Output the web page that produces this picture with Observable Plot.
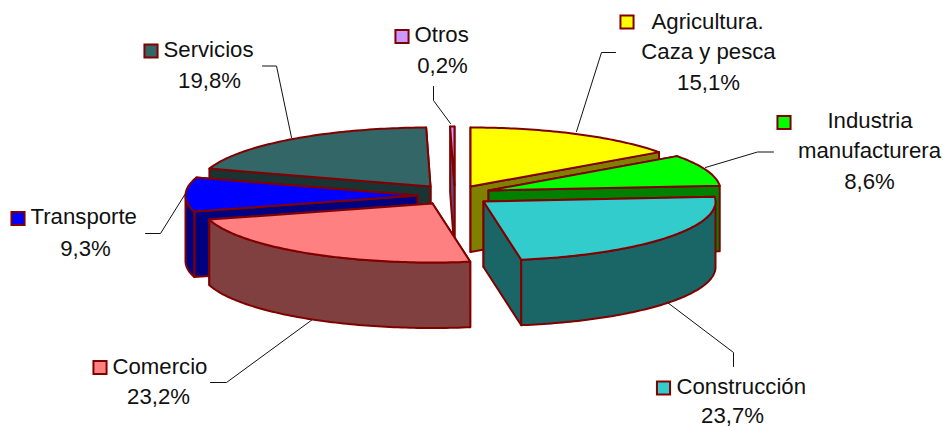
<!DOCTYPE html>
<html>
<head>
<meta charset="utf-8">
<style>html,body{margin:0;padding:0;background:#fff}svg{display:block}</style>
<script src="https://cdn.jsdelivr.net/npm/d3@7"></script>
<script src="https://cdn.jsdelivr.net/npm/@observablehq/plot@0.6"></script>
</head>
<body>
<div id="chart"></div>
<script>
// ---- data ----
const categories = ["Agricultura. Caza y pesca","Industria manufacturera","Construcción","Comercio","Transporte","Servicios","Otros"];
const shares = [15.1, 8.6, 23.7, 23.2, 9.3, 19.8, 0.2];
const topColors = ["#ffff00","#00ff00","#33cccc","#ff8080","#0000ff","#336666","#cc99ff"];
const wallColors = ["#808000","#008000","#1a6666","#804040","#000080","#1a3333","#664c80"];
// apex of each exploded slice
const apexX = [470, 488, 483, 432, 417, 430, 454];
const apexY = [186, 190, 201, 203, 195, 186, 185];
const drawOrder = [6, 5, 0, 1, 4, 2, 3];

// ---- projection of the tilted pie ----
const rx = 232, ry = 59, depth = 65.5;
const rim = (i, deg) => {
  const a = deg * Math.PI / 180;
  return [apexX[i] + rx * Math.sin(a), apexY[i] - ry * Math.cos(a)];
};
let cum = 0;
const spans = shares.map(s => { const a = cum * 3.6; cum += s; return [a, cum * 3.6]; });
spans[6][1] = 360;

const polys = [];
let pid = 0;
const addPoly = (pts, color) => {
  pid++;
  [...pts, pts[0]].forEach(p => polys.push({id: pid, px: p[0], py: p[1], color}));
};
for (const i of drawOrder) {
  const [a0, a1] = spans[i];
  const apex = [apexX[i], apexY[i]];
  const flat = (deg) => {
    const r = rim(i, deg);
    addPoly([apex, r, [r[0], r[1] + depth], [apex[0], apex[1] + depth]], wallColors[i]);
  };
  // flat cut faces, farther one first
  if (rim(i, a0)[1] < rim(i, a1)[1]) { flat(a0); flat(a1); } else { flat(a1); flat(a0); }
  // curved outer wall (front half only)
  const f0 = Math.max(a0, 90), f1 = Math.min(a1, 270);
  if (f1 > f0) {
    const arc = d3.range(f0, f1, 1).concat(f1).map(d => rim(i, d));
    addPoly([...arc, ...arc.slice().reverse().map(p => [p[0], p[1] + depth])], wallColors[i]);
  }
  // top face
  const top = d3.range(a0, a1, 1).concat(a1).map(d => rim(i, d));
  addPoly([apex, ...top], topColors[i]);
}

// ---- labels ----
const pct = s => s.toFixed(1).replace(".", ",") + "%";
const textRows = [
  {t: "Agricultura.", x: 651, y: 21, a: "start"},
  {t: "Caza y pesca", x: 708, y: 51, a: "middle"},
  {t: pct(shares[0]), x: 708, y: 82, a: "middle"},
  {t: "Industria", x: 869.5, y: 120, a: "middle"},
  {t: "manufacturera", x: 869, y: 150, a: "middle"},
  {t: pct(shares[1]), x: 869, y: 181, a: "middle"},
  {t: "Construcción", x: 676, y: 386, a: "start"},
  {t: pct(shares[2]), x: 732, y: 415.5, a: "middle"},
  {t: "Comercio", x: 112, y: 366, a: "start"},
  {t: pct(shares[3]), x: 158, y: 396, a: "middle"},
  {t: "Transporte", x: 30, y: 216, a: "start"},
  {t: pct(shares[4]), x: 85, y: 248, a: "middle"},
  {t: "Servicios", x: 163, y: 49, a: "start"},
  {t: pct(shares[5]), x: 209, y: 80, a: "middle"},
  {t: "Otros", x: 414, y: 34, a: "start"},
  {t: pct(shares[6]), x: 442, y: 65, a: "middle"}
];
const keyX = [626.5, 783.5, 663, 99.5, 17.5, 150.5, 401.5];
const keyY = [21.5, 122, 387.5, 367, 218, 50.5, 36];
const keys = categories.map((c, i) => ({c, x: keyX[i], y: keyY[i], color: topColors[i]}));
const leaders = [
  [[615,52],[601,52],[576,131]],
  [[773,151.5],[757,151.5],[705,167]],
  [[733,366],[733,352],[667,302]],
  [[210,382],[226,382],[312,319]],
  [[145,233],[160,233],[185,193]],
  [[262,65.5],[276,65.5],[291,137]],
  [[433,86],[433,100],[450,123]]
].flatMap((l, i) => l.map(p => ({id: i, px: p[0], py: p[1]})));

const font = "'Liberation Sans', Arial, sans-serif";
const chart = Plot.plot({
  width: 943, height: 427, margin: 0,
  style: {background: "#fff", fontFamily: font},
  x: {domain: [0, 943], range: [0, 943], axis: null},
  y: {domain: [0, 427], range: [0, 427], axis: null},
  color: {type: "identity"},
  marks: [
    Plot.line(leaders, {x: "px", y: "py", z: "id", stroke: "#111", strokeWidth: 1}),
    Plot.line(polys, {x: "px", y: "py", z: "id", fill: "color", stroke: "#800000", strokeWidth: 2, strokeLinejoin: "round"}),
    Plot.dot(keys, {x: "x", y: "y", symbol: "square", r: 7.4, fill: "color", stroke: "#800000", strokeWidth: 2}),
    Plot.text(textRows.filter(d => d.a === "start"), {x: "x", y: "y", text: "t", textAnchor: "start", lineAnchor: "middle", fontSize: 22.2, fill: "#111"}),
    Plot.text(textRows.filter(d => d.a === "middle"), {x: "x", y: "y", text: "t", textAnchor: "middle", lineAnchor: "middle", fontSize: 22.2, fill: "#111"})
  ]
});
document.getElementById("chart").appendChild(chart);
</script>
</body>
</html>
